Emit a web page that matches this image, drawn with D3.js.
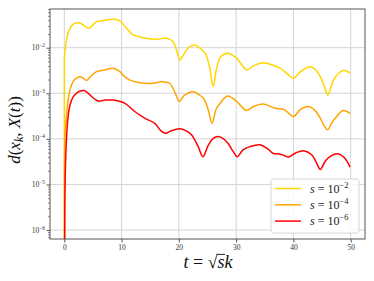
<!DOCTYPE html>
<html><head><meta charset="utf-8">
<script src="https://cdn.jsdelivr.net/npm/d3@7"></script>
<style>
body{margin:0;background:#fff;}
svg{display:block;font-family:"Liberation Serif",serif;}
</style></head><body>
<svg id="c" width="374" height="281"></svg>
<script>
// ---- data ----
const xTicks = [0, 10, 20, 30, 40, 50];
const yTickExps = [-6, -5, -4, -3, -2];
const seriesLabels = ["-2", "-4", "-6"];
const seriesColors = ["#FFD700", "#FFA500", "#FF0000"];

const tYellow = [0,0.02,0.38,0.67,1.26,2.0,2.7,3.5,4.34,5.0,5.63,7.0,8.53,9.7,10.87,12.03,13.78,16.1,17.87,19.0,19.7,20.2,20.8,21.9,22.8,23.6,24.6,25.4,26.0,26.6,27.3,28.4,30.1,31.0,31.85,33.0,34.75,36.3,37.7,39.0,40.0,41.3,42.9,44.0,44.7,45.4,46.0,46.6,47.0,48.0,48.7,49.3,49.9];
const vYellow = [1e-9,6.31e-3,1.48e-2,2.09e-2,3.02e-2,3.47e-2,3.47e-2,3.02e-2,2.66e-2,3.16e-2,3.72e-2,3.98e-2,4.20e-2,3.89e-2,2.66e-2,1.91e-2,1.66e-2,1.53e-2,1.62e-2,1.35e-2,7.94e-3,5.37e-3,7.08e-3,1.05e-2,1.15e-2,1.0e-2,7.59e-3,3.55e-3,1.40e-3,3.55e-3,6.31e-3,7.59e-3,5.89e-3,4.17e-3,3.24e-3,3.98e-3,4.68e-3,4.17e-3,3.55e-3,2.63e-3,2.14e-3,3.02e-3,3.80e-3,3.16e-3,2.29e-3,1.41e-3,9.12e-4,1.41e-3,1.95e-3,2.82e-3,3.16e-3,3.09e-3,2.75e-3];

const tOrange = [0,0.05,0.15,0.38,0.66,1.0,1.5,2.0,2.7,3.3,3.88,4.6,5.63,7.0,8.53,9.7,10.5,11.45,13.2,15.5,17.0,18.4,19.3,20.1,20.9,22.5,23.4,24.3,25.1,25.8,26.5,27.2,28.5,30.1,31.0,31.85,33.0,34.75,36.8,38.25,39.2,40.0,41.2,42.6,43.8,44.7,45.4,46.0,46.6,47.3,48.7,49.9];
const vOrange = [1e-9,5.01e-5,1.41e-4,3.16e-4,7.08e-4,1.20e-3,1.78e-3,2.09e-3,2.31e-3,2.14e-3,1.91e-3,2.34e-3,2.98e-3,3.24e-3,3.55e-3,2.98e-3,2.34e-3,1.95e-3,1.70e-3,1.66e-3,1.80e-3,1.66e-3,1.05e-3,6.61e-4,8.91e-4,1.08e-3,9.55e-4,7.76e-4,4.47e-4,2.19e-4,4.47e-4,6.03e-4,8.71e-4,6.61e-4,5.01e-4,4.17e-4,5.13e-4,5.82e-4,4.68e-4,4.47e-4,3.63e-4,3.09e-4,4.37e-4,5.13e-4,4.17e-4,2.82e-4,1.91e-4,1.58e-4,2.14e-4,2.82e-4,4.17e-4,3.63e-4];

const tRed = [0,0.08,0.2,0.4,0.67,1.0,1.54,2.2,2.8,3.46,4.1,4.75,5.9,7.1,8.5,9.4,10.6,12.3,14.1,15.8,16.7,17.6,18.5,20.2,21.2,22.2,23.3,24.2,25.1,26.0,26.9,27.8,28.6,29.5,30.2,31.2,32.4,34.2,35.5,36.5,37.5,38.3,39.1,40.4,41.75,43.2,44.0,44.7,45.5,46.5,47.9,48.8,49.4,49.9];
const vRed = [1e-9,3.16e-6,2.51e-5,1.12e-4,3.16e-4,5.62e-4,8.32e-4,1.02e-3,1.12e-3,1.15e-3,1.02e-3,8.51e-4,6.76e-4,7.08e-4,7.08e-4,6.76e-4,6.03e-4,3.98e-4,2.82e-4,2.19e-4,1.58e-4,1.32e-4,1.48e-4,1.66e-4,1.51e-4,1.23e-4,7.08e-5,4.07e-5,7.08e-5,1.02e-4,1.12e-4,1.0e-4,7.94e-5,5.25e-5,4.07e-5,5.75e-5,6.76e-5,7.41e-5,6.03e-5,4.79e-5,4.68e-5,4.37e-5,3.98e-5,4.90e-5,5.50e-5,4.47e-5,3.02e-5,2.14e-5,3.16e-5,4.17e-5,4.68e-5,3.98e-5,3.16e-5,2.40e-5];

// ---- layout ----
const L = 50, R = 365, T = 9, B = 239;
const svg = d3.select("#c");
const x = d3.scaleLinear().domain([-2.5, 52.5]).range([L, R]);
const y = d3.scaleLog().domain([Math.pow(10,-6.197), Math.pow(10,-1.151)]).range([B, T]);

svg.append("defs").append("clipPath").attr("id","clip")
  .append("rect").attr("x",L).attr("y",T).attr("width",R-L).attr("height",B-T);

// grid
const grid = svg.append("g");
xTicks.forEach(t => grid.append("line").attr("x1",x(t)).attr("x2",x(t)).attr("y1",T).attr("y2",B)
  .attr("stroke","#d4d4d4").attr("stroke-width",1));
yTickExps.forEach(e => grid.append("line").attr("x1",L).attr("x2",R).attr("y1",y(Math.pow(10,e))).attr("y2",y(Math.pow(10,e)))
  .attr("stroke","#d4d4d4").attr("stroke-width",1));

// lines: straight rise from t=0, then smooth curve
const series = [[tYellow,vYellow],[tOrange,vOrange],[tRed,vRed]];
const smooth = d3.line().x(d=>x(d[0])).y(d=>y(d[1])).curve(d3.curveCatmullRom.alpha(0.5));
const lg = svg.append("g").attr("clip-path","url(#clip)");
series.forEach((s,i) => {
  const pts = s[0].map((t,j)=>[t, s[1][j]]);
  const first = pts[0];
  const rest = pts.slice(1);
  const d = `M${x(first[0])},${y(first[1])}L` + smooth(rest).slice(1);
  lg.append("path").attr("d", d).attr("fill","none")
    .attr("stroke", seriesColors[i]).attr("stroke-width",1.5).attr("stroke-linejoin","round");
});

// frame
svg.append("rect").attr("x",L).attr("y",T).attr("width",R-L).attr("height",B-T)
  .attr("fill","none").attr("stroke","#555").attr("stroke-width",1);

// x axis
const xa = svg.append("g").attr("transform",`translate(0,${B})`)
  .call(d3.axisBottom(x).tickValues(xTicks).tickSize(3.5).tickPadding(2).tickFormat(d3.format("d")));
xa.select(".domain").remove();
xa.selectAll("line").attr("stroke","#555");
xa.selectAll("text").attr("font-family","Liberation Serif, serif").attr("font-size",7.5).attr("fill","#333");

// y axis (log) major + minor
const minor = [];
for (let e=-7;e<=-1;e++) for (let m=2;m<=9;m++){ const v=m*Math.pow(10,e); if (v>=y.domain()[0] && v<=y.domain()[1]) minor.push(v); }
const ya2 = svg.append("g").attr("transform",`translate(${L},0)`)
  .call(d3.axisLeft(y).tickValues(minor).tickSize(2).tickFormat(""));
ya2.select(".domain").remove();
ya2.selectAll("line").attr("stroke","#555").attr("stroke-width",0.7);
const ya = svg.append("g").attr("transform",`translate(${L},0)`)
  .call(d3.axisLeft(y).tickValues(yTickExps.map(e=>Math.pow(10,e))).tickSize(3.5).tickFormat(""));
ya.select(".domain").remove();
ya.selectAll("line").attr("stroke","#555");
yTickExps.forEach(e => {
  const t = svg.append("text").attr("x",L-5).attr("y",y(Math.pow(10,e))+2.5)
    .attr("text-anchor","end").attr("font-size",7.5).attr("fill","#333");
  t.append("tspan").text("10");
  t.append("tspan").attr("dy",-3).attr("font-size",5.5).text("\u2212"+Math.abs(e));
});

// x label: t = √s k
const xl = svg.append("text").attr("x",208).attr("y",268).attr("text-anchor","middle")
  .attr("font-size",18).attr("fill","#111");
xl.append("tspan").attr("font-style","italic").text("t");
xl.append("tspan").text(" = \u221A");
xl.append("tspan").attr("font-style","italic").text("s");
xl.append("tspan").attr("font-style","italic").text("k");
try {
  const node = xl.node();
  const txt = node.textContent;
  const iS = txt.indexOf("s");
  const ext = node.getExtentOfChar(iS);
  const iR = txt.indexOf("\u221A");
  const extR = node.getExtentOfChar(iR);
  svg.append("line").attr("x1", extR.x+extR.width-0.8).attr("x2", ext.x+ext.width+0.5)
    .attr("y1", extR.y+2.4).attr("y2", extR.y+2.4).attr("stroke","#111").attr("stroke-width",0.9);
} catch(e) {}

// y label
const yl = svg.append("text").attr("transform","translate(20,130) rotate(-90)").attr("text-anchor","middle")
  .attr("font-size",17).attr("fill","#111");
yl.append("tspan").attr("font-style","italic").text("d");
yl.append("tspan").text("(");
yl.append("tspan").attr("font-style","italic").text("x");
yl.append("tspan").attr("font-style","italic").attr("font-size",12).attr("dy",3).text("k");
yl.append("tspan").attr("dy",-3).text(", ");
yl.append("tspan").attr("font-style","italic").text("X");
yl.append("tspan").text("(");
yl.append("tspan").attr("font-style","italic").text("t");
yl.append("tspan").text("))");

// legend
const lgx = 271, lgy = 179;
svg.append("rect").attr("x",lgx).attr("y",lgy).attr("width",88).attr("height",54).attr("rx",2.5)
  .attr("fill","#fff").attr("fill-opacity",0.85).attr("stroke","#ccc").attr("stroke-width",0.8);
seriesLabels.forEach((lab,i) => {
  const yy = lgy + 9.5 + i*16.3;
  svg.append("line").attr("x1",275).attr("x2",301).attr("y1",yy).attr("y2",yy)
    .attr("stroke",seriesColors[i]).attr("stroke-width",1.5);
  const t = svg.append("text").attr("x",310).attr("y",yy+4).attr("font-size",12).attr("fill","#222");
  t.append("tspan").attr("font-style","italic").text("s");
  t.append("tspan").text(" = 10");
  t.append("tspan").attr("dy",-5).attr("font-size",8.5).text("\u2212"+lab.replace("-",""));
});
</script>
</body></html>
